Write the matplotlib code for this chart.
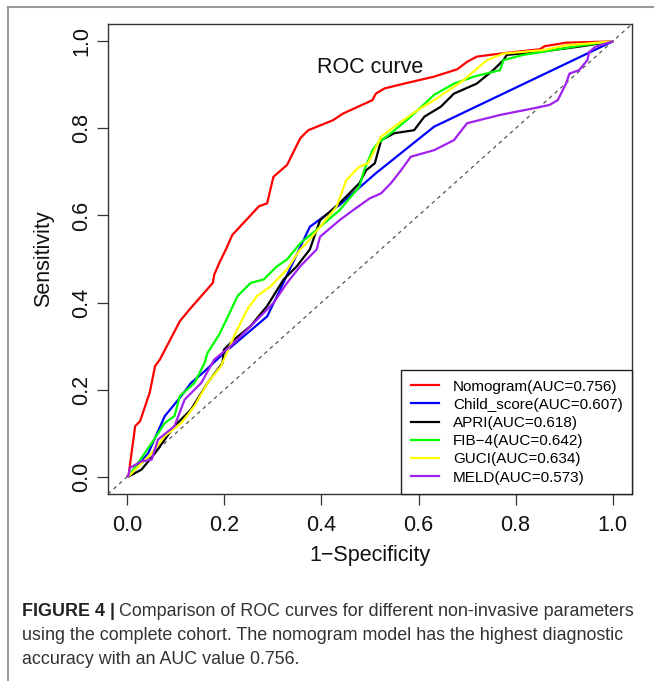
import matplotlib
matplotlib.use('Agg')
import matplotlib.pyplot as plt

plt.rcParams['font.family'] = ['Liberation Sans', 'DejaVu Sans']

## ROC curve points (1-specificity, sensitivity)
nomo_x = [0, 0.002, 0.016, 0.026, 0.046, 0.057, 0.067, 0.108, 0.128, 0.176, 0.179, 0.189, 0.203,
          0.216, 0.271, 0.288, 0.301, 0.329, 0.356, 0.369, 0.373, 0.424, 0.444, 0.505, 0.512,
          0.53, 0.578, 0.632, 0.68, 0.70, 0.72, 0.768, 0.85, 0.86, 0.904, 1.0]
nomo_y = [0, 0.0, 0.116, 0.127, 0.193, 0.254, 0.269, 0.357, 0.384, 0.445, 0.464, 0.49, 0.522,
          0.555, 0.621, 0.628, 0.689, 0.716, 0.777, 0.792, 0.796, 0.819, 0.834, 0.865, 0.880,
          0.892, 0.905, 0.919, 0.936, 0.953, 0.965, 0.972, 0.982, 0.989, 0.997, 1.0]

child_x = [0, 0.002, 0.043, 0.077, 0.108, 0.131, 0.159, 0.199, 0.288, 0.315, 0.376, 0.437, 0.512, 0.632, 1.0]
child_y = [0, 0.0, 0.054, 0.139, 0.181, 0.215, 0.242, 0.284, 0.368, 0.43, 0.574, 0.624, 0.697, 0.804, 1.0]

apri_x = [0, 0.002, 0.029, 0.057, 0.097, 0.131, 0.165, 0.196, 0.199, 0.22, 0.254, 0.288, 0.322, 0.349,
          0.376, 0.397, 0.437, 0.478, 0.492, 0.51, 0.523, 0.55, 0.591, 0.612, 0.646, 0.673, 0.72,
          0.754, 0.775, 0.782, 0.85, 0.931, 0.972, 1.0]
apri_y = [0, 0.0, 0.016, 0.054, 0.116, 0.154, 0.215, 0.261, 0.292, 0.315, 0.346, 0.392, 0.453, 0.483,
          0.522, 0.589, 0.628, 0.674, 0.704, 0.72, 0.773, 0.789, 0.796, 0.827, 0.85, 0.88, 0.903,
          0.934, 0.957, 0.969, 0.976, 0.988, 0.995, 1.0]

fib4_x = [0, 0.002, 0.029, 0.05, 0.077, 0.097, 0.108, 0.138, 0.159, 0.165, 0.189, 0.206, 0.227, 0.254,
          0.281, 0.308, 0.329, 0.356, 0.397, 0.437, 0.478, 0.488, 0.505, 0.516, 0.543, 0.584, 0.632,
          0.673, 0.714, 0.768, 0.775, 0.816, 0.877, 0.938, 1.0]
fib4_y = [0, 0.0, 0.043, 0.077, 0.123, 0.139, 0.185, 0.215, 0.261, 0.284, 0.326, 0.365, 0.415, 0.445,
          0.453, 0.483, 0.499, 0.536, 0.574, 0.612, 0.666, 0.704, 0.75, 0.766, 0.789, 0.827, 0.877,
          0.903, 0.919, 0.934, 0.957, 0.969, 0.98, 0.991, 1.0]

guci_x = [0, 0.002, 0.016, 0.05, 0.077, 0.111, 0.138, 0.165, 0.193, 0.22, 0.247, 0.267, 0.295, 0.315,
          0.329, 0.356, 0.369, 0.431, 0.451, 0.478, 0.496, 0.523, 0.55, 0.598, 0.632, 0.693, 0.741,
          0.775, 0.857, 0.904, 1.0]
guci_y = [0, 0.0, 0.016, 0.054, 0.093, 0.123, 0.162, 0.215, 0.254, 0.323, 0.384, 0.415, 0.437, 0.46,
          0.476, 0.522, 0.536, 0.62, 0.681, 0.712, 0.72, 0.781, 0.804, 0.842, 0.865, 0.911, 0.957,
          0.972, 0.98, 0.991, 1.0]

meld_x = [0, 0.002, 0.005, 0.029, 0.05, 0.063, 0.097, 0.118, 0.152, 0.179, 0.213, 0.247, 0.281, 0.301,
          0.329, 0.356, 0.39, 0.397, 0.437, 0.465, 0.499, 0.523, 0.543, 0.564, 0.584, 0.632, 0.673,
          0.70, 0.768, 0.836, 0.87, 0.887, 0.904, 0.911, 0.931, 0.948, 0.952, 0.965, 1.0]
meld_y = [0, 0.0, 0.02, 0.035, 0.039, 0.085, 0.116, 0.177, 0.215, 0.269, 0.3, 0.338, 0.376, 0.399,
          0.445, 0.483, 0.522, 0.551, 0.589, 0.612, 0.639, 0.651, 0.674, 0.704, 0.735, 0.75, 0.773,
          0.812, 0.831, 0.846, 0.854, 0.865, 0.903, 0.926, 0.934, 0.957, 0.976, 0.988, 1.0]

labels = ['Nomogram(AUC=0.756)', 'Child_score(AUC=0.607)', 'APRI(AUC=0.618)',
          'FIB\u22124(AUC=0.642)', 'GUCI(AUC=0.634)', 'MELD(AUC=0.573)']
colors = ['#ff0000', '#0000ff', '#000000', '#00ff00', '#ffff00', '#a020f0']
curves = [(nomo_x, nomo_y), (child_x, child_y), (apri_x, apri_y),
          (fib4_x, fib4_y), (guci_x, guci_y), (meld_x, meld_y)]

fig = plt.figure(figsize=(6.54, 6.81), dpi=100)
ax = fig.add_axes([108/654, 1-494/681, 524/654, 470/681])

ax.axline((0, 0), (1, 1), ls=(0, (3, 3)), color='#555555', lw=0.9, zorder=1)
for (x, y), c, lab in zip(curves, colors, labels):
    ax.plot(x, y, color=c, lw=1.6, label=lab, zorder=2)

ax.text(0.5, 0.94, 'ROC curve', ha='center', va='center', fontsize=15.5, color='#111111')

ax.set_xlim(-0.04, 1.04)
ax.set_ylim(-0.04, 1.04)
ticks = [0.0, 0.2, 0.4, 0.6, 0.8, 1.0]
ax.set_xticks(ticks)
ax.set_yticks(ticks)
ax.set_xticklabels(['%.1f' % t for t in ticks])
ax.set_yticklabels(['%.1f' % t for t in ticks], rotation=90, va='center')
ax.tick_params(direction='out', length=8, width=0.9, colors='#333333', labelcolor='#111111',
               labelsize=15.5)
ax.tick_params(axis='x', pad=7)
ax.tick_params(axis='y', pad=3.5)
for s in ax.spines.values():
    s.set_color('#333333')
    s.set_linewidth(1.0)

ax.set_xlabel('1\u2212Specificity', fontsize=15.5, color='#111111', va='center')
ax.xaxis.set_label_coords(0.5, (494-555)/470)
ax.set_ylabel('Sensitivity', fontsize=15.5, color='#111111', va='center')
ax.yaxis.set_label_coords((44-108)/524, 0.5)

leg = ax.legend(loc='lower right', fontsize=11, frameon=True, fancybox=False,
                edgecolor='#222222', framealpha=1, borderaxespad=0, handlelength=1.83,
                handletextpad=0.92, labelspacing=0.275, borderpad=0.62)
leg.get_frame().set_linewidth(1.0)

# outer figure frame (top and left only are visible)
fig.add_artist(plt.Line2D([8/654, 8/654], [0, 1-7/681], color='#999999', lw=1.5,
                          transform=fig.transFigure))
fig.add_artist(plt.Line2D([8/654, 1], [1-7/681, 1-7/681], color='#999999', lw=1.5,
                          transform=fig.transFigure))

# caption
cap_size = 12.9
renderer = fig.canvas.get_renderer()
t0 = fig.text(22/654, 1-611/681, 'FIGURE 4 |', fontsize=cap_size, fontweight='bold',
              color='#222222', va='center', ha='left')
bb = t0.get_window_extent(renderer)
fig.text(bb.x1/654 + 4/654, 1-611/681, 'Comparison of ROC curves for different non-invasive parameters',
         fontsize=cap_size, color='#333333', va='center', ha='left')
fig.text(22/654, 1-636/681, 'using the complete cohort. The nomogram model has the highest diagnostic',
         fontsize=cap_size, color='#333333', va='center', ha='left')
fig.text(22/654, 1-660/681, 'accuracy with an AUC value 0.756.',
         fontsize=cap_size, color='#333333', va='center', ha='left')

fig.savefig('out.png', dpi=100)
